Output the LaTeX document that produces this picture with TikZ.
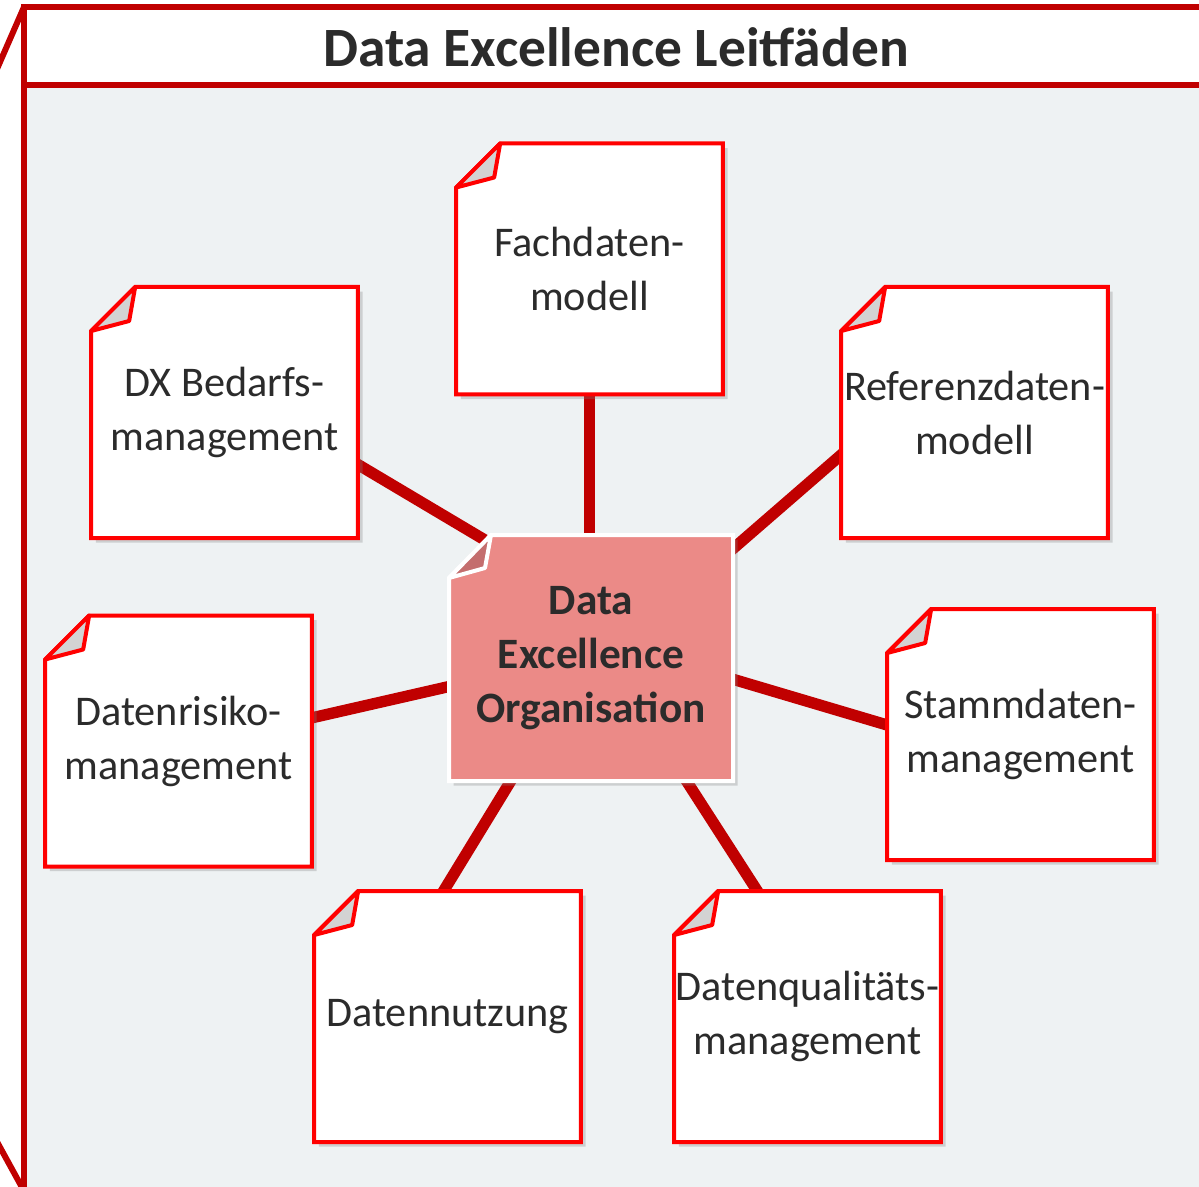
\documentclass[tikz,border=0pt]{standalone}
\usepackage{fontspec}
\setmainfont{Carlito}
\usetikzlibrary{calc,shadows}

\definecolor{linkred}{HTML}{C00000}
\definecolor{notered}{HTML}{FF0000}
\definecolor{foldgray}{HTML}{D3D3D3}
\definecolor{orgfill}{HTML}{EB8A87}
\definecolor{orgfold}{HTML}{C46E6E}
\definecolor{bggray}{HTML}{EEF2F3}
\definecolor{textgray}{HTML}{2B2B2B}

\pgfdeclarelayer{back}
\pgfdeclarelayer{mid}
\pgfdeclarelayer{paper}
\pgfsetlayers{back,mid,paper,main}

\begin{document}
\begin{tikzpicture}[x=0.75pt,y=-0.75pt,
        note/.style={rectangle, outer sep=0pt, inner sep=0pt,
            minimum width=200pt, minimum height=188.25pt, align=center,
            text=textgray, font=\fontsize{31.7}{40.5}\selectfont},
        orgnote/.style={note, minimum width=213pt, minimum height=184.5pt,
            font=\bfseries\fontsize{32.5}{40.5}\selectfont},
        notebox/.style={draw=notered, line width=3pt, fill=white,
            drop shadow={shadow xshift=3.5pt, shadow yshift=-3.5pt, opacity=0.3}},
        notefold/.style={draw=notered, line width=3pt, fill=foldgray, line join=round},
        link/.style={draw=linkred, line width=8.5pt},
        frameline/.style={draw=linkred, line width=4.5pt}]

        \useasboundingbox (0,0) rectangle (1199,1187);

        % frame with title bar
        \begin{pgfonlayer}{back}
            \fill[white] (0,0) rectangle (1199,1187);
            \fill[bggray] (24,85) rectangle (1215,1200);
            \draw[frameline] (1215,7) -- (24,7) -- (24,1200);
            \draw[frameline] (24,85) -- (1215,85);
            \draw[frameline] (24,7) -- (-10,85);
            \draw[frameline] (24,1191) -- (-10,1129);
        \end{pgfonlayer}

        \node[text=textgray, font=\bfseries\fontsize{41.6}{49}\selectfont]
            (title) at (616,47) {Data Excellence Leitfäden};

        % notes round the organisation
        \node[orgnote] (org) at (591,658) {Data\\Excellence\\Organisation};
        \node[note] (fach) at (589.5,269) {Fachdaten-\\modell};
        \node[note] (dx) at (224.5,412.5) {DX Bedarfs-\\management};
        \node[note] (ref) at (974.5,412.5) {Referenzdaten-\\modell};
        \node[note] (risk) at (178.5,741) {Datenrisiko-\\management};
        \node[note] (stamm) at (1020.5,734.5) {Stammdaten-\\management};
        \node[note] (nutz) at (447.5,1016.5) {Datennutzung};
        \node[note] (qual) at (807.5,1016.5) {Datenqualitäts-\\management};

        \begin{pgfonlayer}{paper}
            \foreach \n in {fach,dx,ref,risk,stamm,nutz,qual}{
                \draw[notebox] ($(\n.north west)+(44,0)$) -- (\n.north east)
                    -- (\n.south east) -- (\n.south west)
                    -- ($(\n.north west)+(0,44)$) -- cycle;
                \draw[notefold] ($(\n.north west)+(44,0)$)
                    -- ($(\n.north west)+(38,34)$)
                    -- ($(\n.north west)+(0,44)$) -- cycle;
            }
            \draw[notebox, draw=white, fill=orgfill] ($(org.north west)+(42,0)$)
                -- (org.north east) -- (org.south east) -- (org.south west)
                -- ($(org.north west)+(0,43)$) -- cycle;
            \draw[notefold, draw=white, fill=orgfold] ($(org.north west)+(42,0)$)
                -- ($(org.north west)+(36,33)$)
                -- ($(org.north west)+(0,43)$) -- cycle;
        \end{pgfonlayer}

        % links, under the notes
        \begin{pgfonlayer}{mid}
            \draw[link] ($(fach.south)+(0,-5)$) -- ($(org.north)+(-1.5,5)$);
            \draw[link] ($(dx.east)+(-5,49)$) -- ($(org.center)+(-91,-109)$);
            \draw[link] ($(ref.west)+(5,38)$) -- ($(org.center)+(129,-98)$);
            \draw[link] ($(risk.east)+(-5,-22)$) -- ($(org.center)+(-131,26)$);
            \draw[link] ($(stamm.west)+(5,-8)$) -- ($(org.center)+(131,18)$);
            \draw[link] ($(nutz.north)+(-7,5)$) -- ($(org.center)+(-76,116)$);
            \draw[link] ($(qual.north)+(-47,5)$) -- ($(org.center)+(91,116)$);
        \end{pgfonlayer}

\end{tikzpicture}
\end{document}
